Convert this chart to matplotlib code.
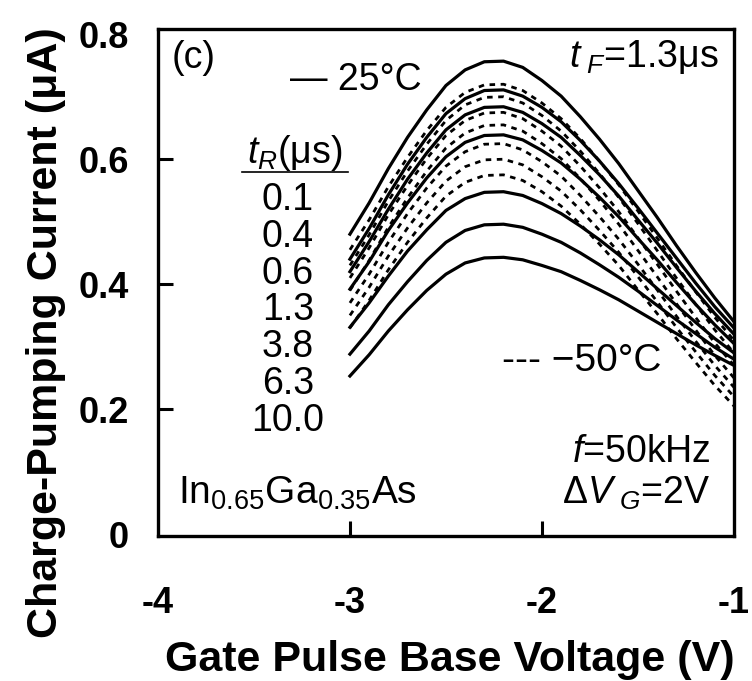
import matplotlib
matplotlib.use('Agg')
import matplotlib.pyplot as plt

matplotlib.rcParams['font.family'] = 'sans-serif'
matplotlib.rcParams['font.sans-serif'] = ['Liberation Sans']
matplotlib.rcParams['mathtext.fontset'] = 'custom'
matplotlib.rcParams['mathtext.rm'] = 'Liberation Sans'
matplotlib.rcParams['mathtext.it'] = 'Liberation Sans:italic'

# gate pulse base voltage (V)
vbase = [-3.0, -2.9, -2.8, -2.7, -2.6, -2.5, -2.4, -2.3, -2.2, -2.1, -2.0,
         -1.9, -1.8, -1.7, -1.6, -1.5, -1.4, -1.3, -1.2, -1.1, -1.0]

t_rise = ['0.1', '0.4', '0.6', '1.3', '3.8', '6.3', '10.0']

# charge-pumping current (uA) at 25 C, one row per rise time
icp_25 = [
    [0.480, 0.530, 0.585, 0.635, 0.679, 0.718, 0.743, 0.756, 0.757, 0.747, 0.726,
     0.701, 0.668, 0.632, 0.593, 0.550, 0.507, 0.462, 0.419, 0.378, 0.340],
    [0.440, 0.489, 0.543, 0.592, 0.635, 0.673, 0.697, 0.710, 0.711, 0.701, 0.683,
     0.660, 0.630, 0.597, 0.561, 0.522, 0.482, 0.442, 0.402, 0.364, 0.330],
    [0.420, 0.468, 0.520, 0.568, 0.610, 0.647, 0.671, 0.683, 0.684, 0.675, 0.657,
     0.635, 0.606, 0.575, 0.541, 0.503, 0.466, 0.427, 0.389, 0.353, 0.320],
    [0.392, 0.436, 0.486, 0.530, 0.570, 0.604, 0.627, 0.638, 0.639, 0.631, 0.614,
     0.594, 0.568, 0.539, 0.508, 0.473, 0.439, 0.403, 0.368, 0.335, 0.305],
    [0.331, 0.370, 0.413, 0.453, 0.487, 0.518, 0.537, 0.547, 0.548, 0.542, 0.529,
     0.513, 0.493, 0.471, 0.447, 0.420, 0.393, 0.366, 0.339, 0.313, 0.290],
    [0.288, 0.325, 0.367, 0.404, 0.438, 0.467, 0.486, 0.495, 0.496, 0.491, 0.480,
     0.467, 0.450, 0.431, 0.411, 0.389, 0.366, 0.343, 0.321, 0.299, 0.280],
    [0.253, 0.287, 0.325, 0.359, 0.390, 0.416, 0.434, 0.442, 0.443, 0.439, 0.430,
     0.420, 0.406, 0.391, 0.375, 0.357, 0.339, 0.321, 0.303, 0.286, 0.270],
]

# same rise times at -50 C
icp_m50 = [
    [0.455, 0.503, 0.556, 0.603, 0.646, 0.683, 0.707, 0.719, 0.720, 0.710, 0.690,
     0.665, 0.633, 0.597, 0.559, 0.517, 0.474, 0.430, 0.388, 0.347, 0.310],
    [0.430, 0.479, 0.533, 0.581, 0.624, 0.662, 0.687, 0.699, 0.700, 0.690, 0.670,
     0.645, 0.613, 0.577, 0.539, 0.497, 0.454, 0.410, 0.368, 0.327, 0.290],
    [0.410, 0.458, 0.511, 0.558, 0.601, 0.638, 0.662, 0.674, 0.675, 0.665, 0.645,
     0.621, 0.589, 0.554, 0.516, 0.474, 0.432, 0.389, 0.347, 0.306, 0.270],
    [0.390, 0.438, 0.491, 0.538, 0.581, 0.618, 0.642, 0.654, 0.655, 0.645, 0.625,
     0.601, 0.569, 0.534, 0.496, 0.454, 0.412, 0.369, 0.327, 0.286, 0.250],
    [0.370, 0.416, 0.467, 0.513, 0.554, 0.589, 0.612, 0.624, 0.625, 0.615, 0.596,
     0.573, 0.542, 0.508, 0.472, 0.432, 0.391, 0.349, 0.309, 0.270, 0.235],
    [0.350, 0.395, 0.445, 0.490, 0.530, 0.565, 0.588, 0.599, 0.600, 0.591, 0.572,
     0.549, 0.519, 0.486, 0.451, 0.412, 0.372, 0.331, 0.292, 0.254, 0.220],
    [0.330, 0.374, 0.423, 0.467, 0.506, 0.541, 0.563, 0.574, 0.575, 0.566, 0.548,
     0.525, 0.496, 0.464, 0.430, 0.391, 0.353, 0.313, 0.275, 0.238, 0.205],
]

fig = plt.figure(figsize=(7.52, 6.81), dpi=100)
ax = fig.add_axes([0.210, 0.213, 0.766, 0.744])

for row in icp_m50:
    ax.plot(vbase, row, color='black', lw=2.0, ls=(0, (2, 2)))
for row in icp_25:
    ax.plot(vbase, row, color='black', lw=2.3)

ax.set_xlim(-4, -1)
ax.set_ylim(-0.003, 0.808)
ax.set_xticks([-4, -3, -2, -1])
ax.set_xticklabels(['-4', '-3', '-2', '-1'])
ax.set_yticks([0, 0.2, 0.4, 0.6, 0.8])
ax.set_yticklabels(['0', '0.2', '0.4', '0.6', '0.8'])
ax.tick_params(axis='x', direction='in', length=11, width=2.2, labelsize=26,
               pad=36)
ax.tick_params(axis='y', direction='in', length=11, width=2.2, labelsize=26,
               pad=21)
for lab in ax.get_xticklabels() + ax.get_yticklabels():
    lab.set_fontweight('bold')
# no tick marks where the ticks sit on the frame
for t in (ax.xaxis.get_major_ticks()[0], ax.xaxis.get_major_ticks()[-1],
          ax.yaxis.get_major_ticks()[0], ax.yaxis.get_major_ticks()[-1]):
    t.tick1line.set_visible(False)
for sp in ax.spines.values():
    sp.set_linewidth(2.4)

ax.set_xlabel('Gate Pulse Base Voltage (V)', fontsize=31, fontweight='bold')
ax.set_ylabel('Charge-Pumping Current (\u03bcA)', fontsize=31,
              fontweight='bold')
ax.xaxis.set_label_coords(0.507, -0.205)
ax.yaxis.set_label_coords(-0.16, 0.402)

fs = 27
ax.text(-3.927, 0.762, '(c)', fontsize=fs, va='center', ha='left')
ax.text(-3.31, 0.727, '\u2014 25\u00b0C', fontsize=fs, va='center', ha='left')
ax.text(-1.08, 0.763, '$\\mathit{t}_{\\ \\mathit{F}}$=1.3\u03bcs',
        fontsize=fs, va='center', ha='right')
ax.text(-3.286, 0.610, '$\\mathit{t}_{\\mathit{R}}$(\u03bcs)', fontsize=fs,
        va='center', ha='center')
ax.plot([0.146, 0.330], [0.718, 0.718], transform=ax.transAxes,
        color='black', lw=1.2)
for k, lab in enumerate(t_rise):
    ax.text(-3.323, 0.535 - 0.059 * k, lab, fontsize=fs, va='center',
            ha='center')
ax.text(-3.896, 0.065, 'In$_{0.65}$Ga$_{0.35}$As', fontsize=28,
        va='center', ha='left')
ax.text(-2.208, 0.277, '--- \u221250\u00b0C', fontsize=28, va='center',
        ha='left')
ax.text(-1.12, 0.132, '$\\mathit{f}$=50kHz', fontsize=fs, va='center',
        ha='right')
ax.text(-1.12, 0.065, '$\\mathit{\\Delta V}_{\\ \\mathit{G}}$=2V',
        fontsize=fs, va='center', ha='right')

fig.savefig('out.png', dpi=100)
